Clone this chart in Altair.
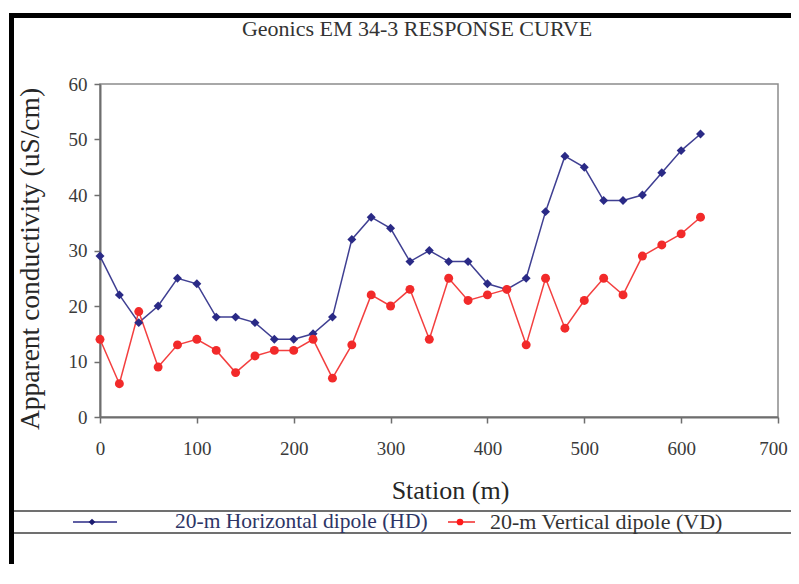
import altair as alt
import pandas as pd

stations = list(range(0, 640, 20))
hd_values = [29, 22, 17, 20, 25, 24, 18, 18, 17, 14, 14, 15, 18, 32, 36, 34,
             28, 30, 28, 28, 24, 23, 25, 37, 47, 45, 39, 39, 40, 44, 48, 51]
vd_values = [14, 6, 19, 9, 13, 14, 12, 8, 11, 12, 12, 14, 7, 13, 22, 20,
             23, 14, 25, 21, 22, 23, 13, 25, 16, 21, 25, 22, 29, 31, 33, 36]
series_names = ["20-m Horizontal dipole (HD)", "20-m  Vertical dipole (VD)"]
x_ticks = [0, 100, 200, 300, 400, 500, 600, 700]
y_ticks = [0, 10, 20, 30, 40, 50, 60]

df = pd.DataFrame({
    "station": stations * 2,
    "value": hd_values + vd_values,
    "series": [series_names[0]] * len(stations) + [series_names[1]] * len(stations),
})

FONT = "Liberation Serif"
W, H = 678, 333

color_scale = alt.Scale(domain=series_names, range=["#2a2a86", "#f22a2a"])
shape_scale = alt.Scale(domain=series_names, range=["diamond", "circle"])

base = alt.Chart(df).encode(
    x=alt.X("station:Q", title="Station (m)",
            scale=alt.Scale(domain=[0, 700], nice=False),
            axis=alt.Axis(values=x_ticks, format="d", labelPadding=16,
                          labelFlush=False,
                          labelOffset={"condition": {"test": "datum.value == 700", "value": -5},
                                       "value": 0},
                          titleX=350, titleY=73, titleBaseline="middle",
                          titleFontSize=26)),
    y=alt.Y("value:Q", title="Apparent conductivity (uS/cm)",
            scale=alt.Scale(domain=[0, 60], nice=False),
            axis=alt.Axis(values=y_ticks, labelPadding=7, labelFlush=False,
                          titleX=-70, titleY=H / 2 + 8, titleBaseline="middle",
                          titleFontSize=27.5)),
    color=alt.Color("series:N", scale=color_scale, legend=None),
)

lines = base.mark_line(strokeWidth=1.5, opacity=0.9)
points = base.mark_point(filled=True, size=80, opacity=1).encode(
    shape=alt.Shape("series:N", scale=shape_scale, legend=None)
)

one = alt.Data(values=[{"k": 0}])

title = alt.Chart(one).mark_text(
    text="Geonics EM 34-3 RESPONSE CURVE", font=FONT, fontSize=22,
    color="#333333", align="center", baseline="middle"
).encode(x=alt.value(317), y=alt.value(-55))

frame_top = alt.Chart(one).mark_rule(color="black", strokeWidth=5).encode(
    x=alt.value(-91), x2=alt.value(720), y=alt.value(-68.5))
frame_left = alt.Chart(one).mark_rule(color="black", strokeWidth=5).encode(
    x=alt.value(-88.5), y=alt.value(-71), y2=alt.value(520))

leg_top = alt.Chart(one).mark_rule(color="#707070", strokeWidth=2).encode(
    x=alt.value(-86), x2=alt.value(720), y=alt.value(427))
leg_bot = alt.Chart(one).mark_rule(color="#707070", strokeWidth=2).encode(
    x=alt.value(-86), x2=alt.value(720), y=alt.value(449))

ly = 438
hd_sym_line = alt.Chart(one).mark_rule(color="#2a2a86", strokeWidth=1.5).encode(
    x=alt.value(-27), x2=alt.value(17), y=alt.value(ly))
hd_sym_pt = alt.Chart(one).mark_point(shape="diamond", filled=True, size=45,
                                      color="#1c1c70", opacity=1).encode(
    x=alt.value(-8), y=alt.value(ly))
hd_label = alt.Chart(one).mark_text(
    text=series_names[0], font=FONT, fontSize=21.5, color="#2d3566",
    align="left", baseline="middle").encode(x=alt.value(75), y=alt.value(ly))

vd_sym_line = alt.Chart(one).mark_rule(color="#f22a2a", strokeWidth=1.5).encode(
    x=alt.value(348), x2=alt.value(375), y=alt.value(ly))
vd_sym_pt = alt.Chart(one).mark_point(shape="circle", filled=True, size=45,
                                      color="#ff1a1a", opacity=1).encode(
    x=alt.value(360), y=alt.value(ly))
vd_label = alt.Chart(one).mark_text(
    text=series_names[1], font=FONT, fontSize=22, color="#333333",
    align="left", baseline="middle").encode(x=alt.value(390), y=alt.value(ly))

chart = alt.layer(
    lines, points, title, frame_top, frame_left, leg_top, leg_bot,
    hd_sym_line, hd_sym_pt, hd_label, vd_sym_line, vd_sym_pt, vd_label
).properties(
    width=W, height=H,
    autosize=alt.AutoSizeParams(type="none"),
    padding={"left": 92, "top": 76, "right": 13, "bottom": 147},
).configure_view(
    stroke="#8c8c8c", strokeWidth=1.5
).configure_axis(
    grid=False,
    labelFont=FONT, titleFont=FONT,
    labelFontSize=19, labelColor="#3a3a3a",
    titleColor="#262626", titleFontWeight="normal",
    domainColor="#6e6e6e", domainWidth=2,
    tickColor="#6e6e6e", tickWidth=1.5, tickSize=6,
)

chart.save("out.html", embed_options={"renderer": "svg", "actions": False})
